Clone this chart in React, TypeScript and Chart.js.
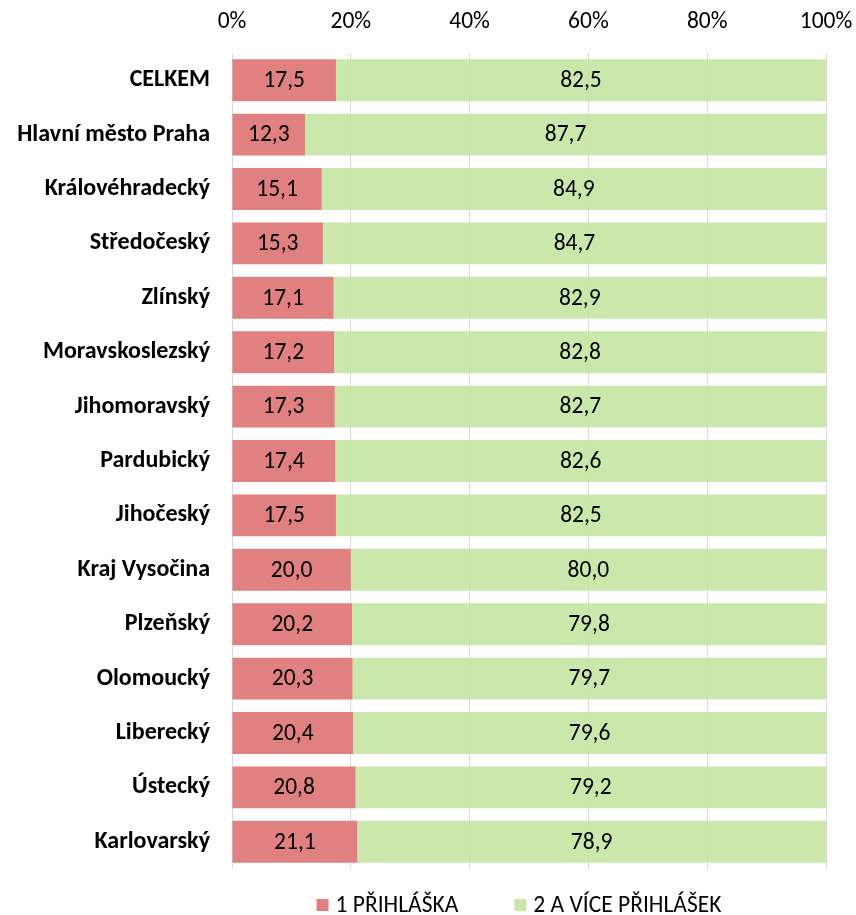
import React, { useEffect, useRef } from "react";
import { Chart, registerables } from "chart.js";

Chart.register(...registerables);

const categories = [
  "CELKEM",
  "Hlavní město Praha",
  "Královéhradecký",
  "Středočeský",
  "Zlínský",
  "Moravskoslezský",
  "Jihomoravský",
  "Pardubický",
  "Jihočeský",
  "Kraj Vysočina",
  "Plzeňský",
  "Olomoucký",
  "Liberecký",
  "Ústecký",
  "Karlovarský",
];
const onePrihlaska = [17.5, 12.3, 15.1, 15.3, 17.1, 17.2, 17.3, 17.4, 17.5, 20.0, 20.2, 20.3, 20.4, 20.8, 21.1];
const morePrihlasek = [82.5, 87.7, 84.9, 84.7, 82.9, 82.8, 82.7, 82.6, 82.5, 80.0, 79.8, 79.7, 79.6, 79.2, 78.9];
const seriesNames = ["1 PŘIHLÁŠKA", "2 A VÍCE PŘIHLÁŠEK"];
const seriesColors = ["rgb(224,128,128)", "rgba(196,228,160,0.88)"];
const legendColors = ["rgb(224,128,128)", "rgb(200,230,168)"];

const FONT = "Carlito, Lato, sans-serif";
const REG = 23.5;
const BOLD = 24;

const fmt = (v: number) => v.toFixed(1).replace(".", ",");

const dataLabelPlugin = {
  id: "dataLabels",
  afterDatasetsDraw(chart: any) {
    const ctx = chart.ctx;
    ctx.save();
    ctx.font = `${REG}px ${FONT}`;
    ctx.fillStyle = "#000";
    ctx.textAlign = "center";
    ctx.textBaseline = "middle";
    chart.data.datasets.forEach((ds: any, di: number) => {
      const meta = chart.getDatasetMeta(di);
      meta.data.forEach((bar: any, i: number) => {
        const cx = (bar.x + bar.base) / 2;
        ctx.fillText(fmt(ds.data[i]), cx, bar.y + 1);
      });
    });
    ctx.restore();
  },
};

const legendPlugin = {
  id: "customLegend",
  afterDraw(chart: any) {
    const ctx = chart.ctx;
    ctx.save();
    ctx.font = `${REG}px ${FONT}`;
    ctx.textBaseline = "middle";
    ctx.textAlign = "left";
    const box = 12;
    const gapText = 7;
    const gapItem = 56;
    const widths = chart.data.datasets.map((d: any) => ctx.measureText(d.label).width);
    const total = widths.reduce((a: number, w: number) => a + box + gapText + w, 0) + gapItem * (widths.length - 1);
    const ca = chart.chartArea;
    const center = (ca.left + ca.right) / 2 - 10;
    let x = center - total / 2;
    const y = ca.bottom + 36;
    chart.data.datasets.forEach((d: any, i: number) => {
      ctx.fillStyle = legendColors[i];
      ctx.fillRect(x, y - box / 2, box, box);
      x += box + gapText;
      ctx.fillStyle = "#000";
      ctx.fillText(d.label, x, y + 1);
      x += widths[i] + gapItem;
    });
    ctx.restore();
  },
};

export default function App() {
  const ref = useRef<HTMLCanvasElement>(null);
  useEffect(() => {
    document.body.style.margin = "0";
    const chart = new Chart(ref.current!, {
      type: "bar",
      data: {
        labels: categories,
        datasets: [
          {
            label: seriesNames[0],
            data: onePrihlaska,
            backgroundColor: seriesColors[0],
            barPercentage: 0.77,
            categoryPercentage: 1,
          },
          {
            label: seriesNames[1],
            data: morePrihlasek,
            backgroundColor: seriesColors[1],
            barPercentage: 0.77,
            categoryPercentage: 1,
          },
        ],
      },
      options: {
        indexAxis: "y",
        animation: false,
        responsive: false,
        maintainAspectRatio: false,
        layout: { padding: { left: 0, right: 30, top: 0, bottom: 46 } },
        plugins: {
          legend: { display: false },
          tooltip: { enabled: false },
        },
        scales: {
          x: {
            position: "top",
            stacked: true,
            min: 0,
            max: 100,
            afterFit: (s: any) => {
              s.height = 53;
              s.paddingLeft = 0;
              s.paddingRight = 0;
            },
            ticks: {
              stepSize: 20,
              padding: 17,
              color: "#000",
              font: { family: FONT, size: REG },
              callback: (v: any) => `${v}%`,
            },
            grid: { color: "#D9D9D9", lineWidth: 1, drawTicks: false },
            border: { display: false },
          },
          y: {
            stacked: true,
            afterFit: (s: any) => {
              s.width = 232;
            },
            ticks: {
              padding: 22,
              color: "#000",
              font: { family: FONT, size: BOLD, weight: "bold" },
            },
            grid: { display: false, drawTicks: false },
            border: { display: false },
          },
        },
      },
      plugins: [dataLabelPlugin, legendPlugin],
    });
    return () => chart.destroy();
  }, []);
  return (
    <div style={{ width: 856, height: 915 }}>
      <canvas ref={ref} width={856} height={915} style={{ width: 856, height: 915, display: "block" }} />
    </div>
  );
}
